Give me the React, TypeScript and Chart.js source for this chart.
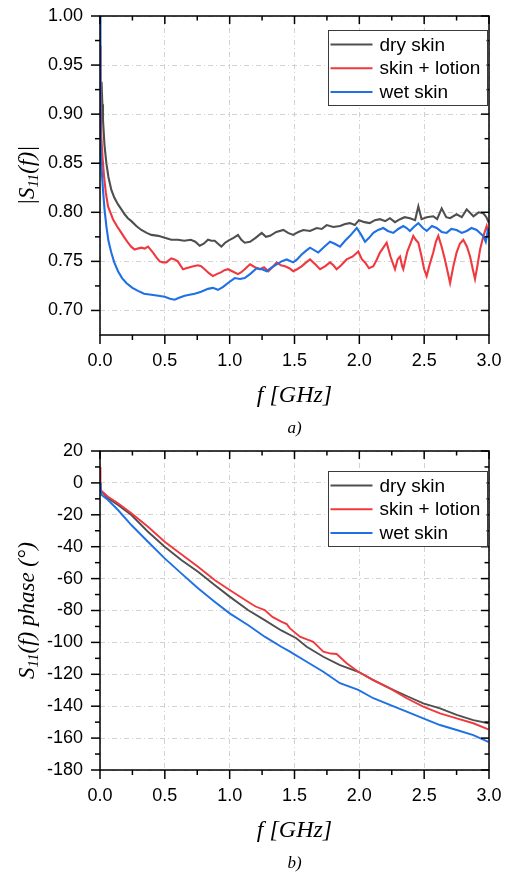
import React, { useEffect, useRef } from "react";
import { Chart, registerables } from "chart.js";

Chart.register(...registerables);

const SANS = "'Liberation Sans', Arial, sans-serif";
const SERIF = "'Liberation Serif', 'Times New Roman', serif";

const SERIES_LABELS = ["dry skin", "skin + lotion", "wet skin"];
const SERIES_COLORS = ["#4f4f4f", "#f0393f", "#1f70e4"];

const X_TICKS = [0, 0.5, 1, 1.5, 2, 2.5, 3];
const X_MINOR = [0.25, 0.75, 1.25, 1.75, 2.25, 2.75];
const MAG_TICKS = [0.7, 0.75, 0.8, 0.85, 0.9, 0.95, 1.0];
const MAG_MINOR = [0.725, 0.775, 0.825, 0.875, 0.925, 0.975];
const PHASE_TICKS = [-180, -160, -140, -120, -100, -80, -60, -40, -20, 0, 20];
const PHASE_MINOR = [-170, -150, -130, -110, -90, -70, -50, -30, -10, 10];

// |S11(f)| — dry skin
const DRY_MAG_F = [0, 0.006, 0.012, 0.018, 0.023, 0.035, 0.049, 0.065, 0.087, 0.11,
  0.139, 0.165, 0.19, 0.215, 0.242, 0.28, 0.319, 0.36, 0.396, 0.45,
  0.499, 0.55, 0.6, 0.65, 0.7, 0.735, 0.769, 0.8, 0.833, 0.86,
  0.885, 0.91, 0.936, 0.965, 1.0, 1.03, 1.064, 1.09, 1.116, 1.157,
  1.2, 1.247, 1.28, 1.311, 1.36, 1.414, 1.45, 1.49, 1.53, 1.568,
  1.62, 1.671, 1.71, 1.748, 1.8, 1.851, 1.89, 1.928, 1.965, 1.997,
  2.04, 2.08, 2.12, 2.159, 2.2, 2.236, 2.275, 2.314, 2.35, 2.39,
  2.43, 2.455, 2.48, 2.52, 2.57, 2.6, 2.635, 2.67, 2.7, 2.75,
  2.79, 2.828, 2.88, 2.92, 2.956, 2.98, 3.0];
const DRY_MAG_V = [0.92, 0.925, 0.933, 0.91, 0.894, 0.868, 0.85, 0.836, 0.823, 0.815,
  0.808, 0.803, 0.798, 0.794, 0.791, 0.786, 0.782, 0.779, 0.777, 0.776,
  0.774, 0.772, 0.772, 0.771, 0.772, 0.77, 0.766, 0.768, 0.772, 0.771,
  0.771, 0.768, 0.765, 0.769, 0.772, 0.774, 0.777, 0.772, 0.769, 0.77,
  0.774, 0.779, 0.775, 0.776, 0.78, 0.782, 0.779, 0.777, 0.78, 0.782,
  0.781, 0.784, 0.783, 0.787, 0.785, 0.786, 0.788, 0.789, 0.787, 0.792,
  0.79, 0.789, 0.792, 0.793, 0.791, 0.794, 0.79, 0.793, 0.795, 0.794,
  0.792, 0.806, 0.793, 0.795, 0.796, 0.793, 0.804, 0.795, 0.794, 0.798,
  0.795, 0.803, 0.796, 0.8, 0.799, 0.795, 0.789];

// |S11(f)| — skin + lotion
const LOTION_MAG_F = [0, 0.004, 0.01, 0.02, 0.031, 0.045, 0.062, 0.08, 0.1, 0.13,
  0.165, 0.19, 0.216, 0.24, 0.267, 0.29, 0.319, 0.345, 0.37, 0.39,
  0.409, 0.435, 0.46, 0.485, 0.512, 0.53, 0.55, 0.575, 0.6, 0.62,
  0.64, 0.665, 0.692, 0.72, 0.756, 0.78, 0.807, 0.84, 0.871, 0.9,
  0.936, 0.96, 0.987, 1.02, 1.064, 1.09, 1.116, 1.157, 1.195, 1.234,
  1.265, 1.298, 1.33, 1.363, 1.395, 1.427, 1.46, 1.49, 1.52, 1.555,
  1.59, 1.62, 1.66, 1.697, 1.735, 1.774, 1.8, 1.825, 1.86, 1.902,
  1.95, 1.992, 2.02, 2.044, 2.075, 2.108, 2.135, 2.159, 2.185, 2.211,
  2.24, 2.275, 2.295, 2.314, 2.33, 2.339, 2.37, 2.4, 2.416, 2.435,
  2.455, 2.48, 2.5, 2.519, 2.545, 2.57, 2.59, 2.609, 2.635, 2.66,
  2.68, 2.7, 2.725, 2.75, 2.775, 2.802, 2.83, 2.854, 2.875, 2.892,
  2.91, 2.931, 2.955, 2.982, 3.0];
const LOTION_MAG_V = [0.97, 0.93, 0.877, 0.855, 0.837, 0.82, 0.806, 0.8, 0.793, 0.786,
  0.779, 0.774, 0.769, 0.765, 0.762, 0.763, 0.764, 0.763, 0.765, 0.762,
  0.759, 0.754, 0.75, 0.749, 0.749, 0.751, 0.753, 0.752, 0.75, 0.746,
  0.742, 0.743, 0.744, 0.745, 0.746, 0.745, 0.742, 0.738, 0.735, 0.737,
  0.739, 0.741, 0.742, 0.74, 0.737, 0.739, 0.742, 0.747, 0.744, 0.742,
  0.744, 0.74, 0.744, 0.749, 0.746, 0.745, 0.743, 0.74, 0.742, 0.745,
  0.749, 0.752, 0.747, 0.742, 0.745, 0.749, 0.746, 0.742, 0.746, 0.752,
  0.755, 0.76, 0.752, 0.749, 0.743, 0.745, 0.752, 0.759, 0.764, 0.769,
  0.755, 0.742, 0.752, 0.755, 0.745, 0.742, 0.76, 0.77, 0.776, 0.772,
  0.769, 0.755, 0.742, 0.735, 0.748, 0.759, 0.77, 0.776, 0.765, 0.752,
  0.74, 0.728, 0.745, 0.759, 0.768, 0.772, 0.765, 0.755, 0.742, 0.732,
  0.745, 0.762, 0.775, 0.786, 0.776];

// |S11(f)| — wet skin
const WET_MAG_F = [0, 0.002, 0.005, 0.012, 0.023, 0.035, 0.049, 0.065, 0.087, 0.11,
  0.139, 0.17, 0.203, 0.25, 0.293, 0.34, 0.396, 0.45, 0.499, 0.54,
  0.576, 0.61, 0.653, 0.69, 0.73, 0.78, 0.833, 0.87, 0.91, 0.95,
  0.987, 1.039, 1.08, 1.116, 1.157, 1.208, 1.25, 1.286, 1.325, 1.363,
  1.4, 1.44, 1.49, 1.52, 1.555, 1.59, 1.62, 1.683, 1.73, 1.774,
  1.81, 1.851, 1.89, 1.928, 1.98, 2.01, 2.044, 2.075, 2.108, 2.145,
  2.185, 2.22, 2.262, 2.3, 2.339, 2.365, 2.39, 2.42, 2.455, 2.49,
  2.52, 2.56, 2.596, 2.635, 2.673, 2.71, 2.75, 2.79, 2.828, 2.865,
  2.905, 2.93, 2.956, 2.975, 2.995];
const WET_MAG_V = [1.0, 0.95, 0.871, 0.845, 0.823, 0.803, 0.786, 0.771, 0.759, 0.749,
  0.74, 0.733, 0.728, 0.723, 0.72, 0.717, 0.716, 0.715, 0.714, 0.712,
  0.711, 0.713, 0.715, 0.716, 0.717, 0.719, 0.722, 0.723, 0.721, 0.724,
  0.728, 0.733, 0.732, 0.733, 0.737, 0.743, 0.742, 0.74, 0.744, 0.747,
  0.75, 0.752, 0.749, 0.752, 0.757, 0.761, 0.764, 0.759, 0.765, 0.77,
  0.768, 0.765, 0.771, 0.776, 0.784, 0.778, 0.77, 0.774, 0.779, 0.782,
  0.784, 0.781, 0.779, 0.783, 0.786, 0.784, 0.781, 0.785, 0.789, 0.784,
  0.781, 0.786, 0.784, 0.78, 0.779, 0.783, 0.782, 0.779, 0.781, 0.784,
  0.782, 0.779, 0.776, 0.77, 0.784];

// S11(f) phase (degrees)
const DRY_PH_F = [0, 0.003, 0.01, 0.026, 0.062, 0.139, 0.242, 0.37, 0.499, 0.627,
  0.756, 0.884, 1.0, 1.141, 1.27, 1.398, 1.514, 1.594, 1.722, 1.851,
  1.992, 2.108, 2.236, 2.365, 2.493, 2.622, 2.751, 2.879, 2.995];
const DRY_PH_V = [0, -3.4, -5.5, -6.5, -9.7, -13.9, -20.1, -30.6, -40, -48.3,
  -55.7, -64, -71.3, -79.7, -86, -92.5, -97.4, -102.7, -109, -114.2,
  -118.4, -123.6, -128.8, -133.6, -138.2, -141.3, -145.5, -148.7, -150.7];

const LOTION_PH_F = [0, 0.002, 0.005, 0.01, 0.062, 0.139, 0.242, 0.37, 0.499, 0.627,
  0.756, 0.884, 1.0, 1.141, 1.2, 1.27, 1.33, 1.398, 1.44, 1.465,
  1.542, 1.6, 1.645, 1.722, 1.78, 1.825, 1.902, 1.992, 2.108, 2.236,
  2.365, 2.493, 2.622, 2.751, 2.879, 2.995];
const LOTION_PH_V = [10, 2, -4, -4.9, -8.7, -12.8, -19, -27.5, -36.9, -44.8,
  -52.5, -60.9, -67.1, -74.5, -77.5, -79.7, -84, -87, -88.5, -91.2,
  -96.4, -98.3, -99.6, -105.8, -107, -107.3, -113.1, -118.4, -123.6, -128.8,
  -135, -140.3, -144.5, -147.6, -150.7, -154.5];

const WET_PH_F = [0, 0.005, 0.013, 0.062, 0.139, 0.242, 0.37, 0.499, 0.627, 0.756,
  0.884, 1.0, 1.141, 1.27, 1.398, 1.465, 1.594, 1.722, 1.851, 1.992,
  2.108, 2.236, 2.365, 2.493, 2.622, 2.751, 2.879, 2.995];
const WET_PH_V = [0, -4, -7.6, -10.7, -17, -26.4, -36.9, -47.3, -56.7, -66.1,
  -74.5, -81.8, -89.1, -96.4, -102.7, -105.8, -112.1, -118.4, -125.6, -129.8,
  -135, -139.2, -143.4, -147.6, -151.8, -154.9, -158.1, -162.3];

type Seg = { t: string; sub?: boolean };
interface DecorCfg {
  yMajor: number[];
  yMinor: number[];
  legendTop: number;
  yTitle: Seg[];
  yTitleX: number;
  caption: string;
}

function makeDecor(cfg: DecorCfg) {
  return {
    id: "decor",
    afterDraw(chart: any) {
      const { ctx, chartArea } = chart;
      const { left, right, top, bottom } = chartArea;
      const xs = chart.scales.x;
      const ys = chart.scales.y;
      const seg = (x1: number, y1: number, x2: number, y2: number) => {
        ctx.beginPath();
        ctx.moveTo(x1, y1);
        ctx.lineTo(x2, y2);
        ctx.stroke();
      };
      ctx.save();
      ctx.strokeStyle = "#000";
      ctx.lineWidth = 1.5;
      for (const v of X_TICKS) {
        const p = xs.getPixelForValue(v);
        seg(p, bottom, p, bottom + 9);
        seg(p, top, p, top + 8);
      }
      for (const v of X_MINOR) {
        const p = xs.getPixelForValue(v);
        seg(p, bottom, p, bottom + 5);
        seg(p, top, p, top + 4.5);
      }
      for (const v of cfg.yMajor) {
        const p = ys.getPixelForValue(v);
        seg(left - 9, p, left, p);
        seg(right - 8, p, right, p);
      }
      for (const v of cfg.yMinor) {
        const p = ys.getPixelForValue(v);
        seg(left - 5, p, left, p);
        seg(right - 4.5, p, right, p);
      }
      ctx.strokeRect(left, top, right - left, bottom - top);

      // legend
      const bw = 159;
      const bh = 75;
      const bx = right - 161.5;
      const by = top + cfg.legendTop;
      ctx.fillStyle = "#fff";
      ctx.fillRect(bx, by, bw, bh);
      ctx.lineWidth = 1;
      ctx.strokeStyle = "#3a3a3a";
      ctx.strokeRect(Math.round(bx) + 0.5, Math.round(by) + 0.5, bw, bh);
      chart.data.datasets.forEach((ds: any, i: number) => {
        const ry = by + 14.5 + i * 23.7;
        ctx.strokeStyle = ds.borderColor;
        ctx.lineWidth = 2;
        seg(bx + 3, ry, bx + 45, ry);
        ctx.fillStyle = "#000";
        ctx.font = `19px ${SANS}`;
        ctx.textBaseline = "middle";
        ctx.textAlign = "left";
        ctx.fillText(ds.label, bx + 52, ry + 1);
      });

      // y-axis title with subscript
      const size = 23;
      const subSize = 15;
      const fontFor = (s: Seg) => `italic ${s.sub ? subSize : size}px ${SERIF}`;
      ctx.save();
      ctx.translate(cfg.yTitleX, (top + bottom) / 2);
      ctx.rotate(-Math.PI / 2);
      let total = 0;
      for (const s of cfg.yTitle) {
        ctx.font = fontFor(s);
        total += ctx.measureText(s.t).width;
      }
      let px = -total / 2;
      const base = size * 0.35;
      ctx.textBaseline = "alphabetic";
      ctx.textAlign = "left";
      ctx.fillStyle = "#000";
      for (const s of cfg.yTitle) {
        ctx.font = fontFor(s);
        ctx.fillText(s.t, px, s.sub ? base + 4 : base);
        px += ctx.measureText(s.t).width;
      }
      ctx.restore();

      // caption
      ctx.font = `italic 17px ${SERIF}`;
      ctx.fillStyle = "#000";
      ctx.textAlign = "center";
      ctx.textBaseline = "middle";
      ctx.fillText(cfg.caption, (left + right) / 2, bottom + 94);
      ctx.restore();
    },
  };
}

const pts = (f: number[], v: number[]) => f.map((x, i) => ({ x, y: v[i] }));

function buildConfig(opts: {
  series: { f: number[]; v: number[] }[];
  min: number;
  max: number;
  yTicks: number[];
  yMinor: number[];
  yFmt: (v: number) => string;
  padTop: number;
  legendTop: number;
  yTitle: Seg[];
  caption: string;
  lineWidth: number;
}): any {
  return {
    type: "line",
    data: {
      datasets: opts.series.map((s, i) => ({
        label: SERIES_LABELS[i],
        data: pts(s.f, s.v),
        borderColor: SERIES_COLORS[i],
        backgroundColor: SERIES_COLORS[i],
        borderWidth: opts.lineWidth,
        pointRadius: 0,
        tension: 0,
        fill: false,
        order: 3 - i,
      })),
    },
    options: {
      responsive: false,
      animation: false,
      events: [],
      layout: { padding: { left: 0, right: 20, top: opts.padTop, bottom: 0 } },
      plugins: { legend: { display: false }, tooltip: { enabled: false } },
      scales: {
        x: {
          type: "linear",
          min: 0,
          max: 3,
          afterBuildTicks: (scale: any) => {
            scale.ticks = X_TICKS.map((value) => ({ value }));
          },
          afterFit: (scale: any) => {
            scale.height = 105;
            scale.paddingLeft = 0;
            scale.paddingRight = 0;
          },
          ticks: {
            callback: (v: any) => Number(v).toFixed(1),
            font: { family: SANS, size: 18 },
            color: "#000",
            padding: 15,
            maxRotation: 0,
            autoSkip: false,
          },
          grid: { color: "#d2d2d2", lineWidth: 1, drawTicks: false },
          border: { display: false, dash: [5, 3, 1, 3] },
          title: {
            display: true,
            text: "f [GHz]",
            color: "#000",
            font: { family: SERIF, style: "italic", size: 24 },
            padding: { top: 0, bottom: 30 },
          },
        },
        y: {
          type: "linear",
          min: opts.min,
          max: opts.max,
          afterBuildTicks: (scale: any) => {
            scale.ticks = opts.yTicks.map((value) => ({ value }));
          },
          afterFit: (scale: any) => {
            scale.width = 100;
            scale.paddingTop = 0;
            scale.paddingBottom = 0;
          },
          ticks: {
            callback: (v: any) => opts.yFmt(Number(v)),
            font: { family: SANS, size: 18 },
            color: "#000",
            padding: 17,
            autoSkip: false,
          },
          grid: { color: "#d2d2d2", lineWidth: 1, drawTicks: false },
          border: { display: false, dash: [5, 3, 1, 3] },
        },
      },
    },
    plugins: [
      makeDecor({
        yMajor: opts.yTicks,
        yMinor: opts.yMinor,
        legendTop: opts.legendTop,
        yTitle: opts.yTitle,
        yTitleX: 26,
        caption: opts.caption,
      }),
    ],
  };
}

export default function App() {
  const refA = useRef<HTMLCanvasElement | null>(null);
  const refB = useRef<HTMLCanvasElement | null>(null);

  useEffect(() => {
    const chartA = new Chart(
      refA.current as HTMLCanvasElement,
      buildConfig({
        series: [
          { f: DRY_MAG_F, v: DRY_MAG_V },
          { f: LOTION_MAG_F, v: LOTION_MAG_V },
          { f: WET_MAG_F, v: WET_MAG_V },
        ],
        min: 0.675,
        max: 1.0,
        yTicks: MAG_TICKS,
        yMinor: MAG_MINOR,
        yFmt: (v) => v.toFixed(2),
        padTop: 16,
        legendTop: 14,
        yTitle: [{ t: "|S" }, { t: "11", sub: true }, { t: "(f)|" }],
        caption: "a)",
        lineWidth: 2.1,
      })
    );
    const chartB = new Chart(
      refB.current as HTMLCanvasElement,
      buildConfig({
        series: [
          { f: DRY_PH_F, v: DRY_PH_V },
          { f: LOTION_PH_F, v: LOTION_PH_V },
          { f: WET_PH_F, v: WET_PH_V },
        ],
        min: -180,
        max: 20,
        yTicks: PHASE_TICKS,
        yMinor: PHASE_MINOR,
        yFmt: (v) => String(Math.round(v)),
        padTop: 11,
        legendTop: 20,
        yTitle: [{ t: "S" }, { t: "11", sub: true }, { t: "(f) phase (°)" }],
        caption: "b)",
        lineWidth: 1.9,
      })
    );
    return () => {
      chartA.destroy();
      chartB.destroy();
    };
  }, []);

  return (
    <div style={{ position: "absolute", left: 0, top: 0, width: 509, height: 875, background: "#fff" }}>
      <canvas ref={refA} width={509} height={440} style={{ position: "absolute", left: 0, top: 0 }} />
      <canvas ref={refB} width={509} height={435} style={{ position: "absolute", left: 0, top: 440 }} />
    </div>
  );
}
